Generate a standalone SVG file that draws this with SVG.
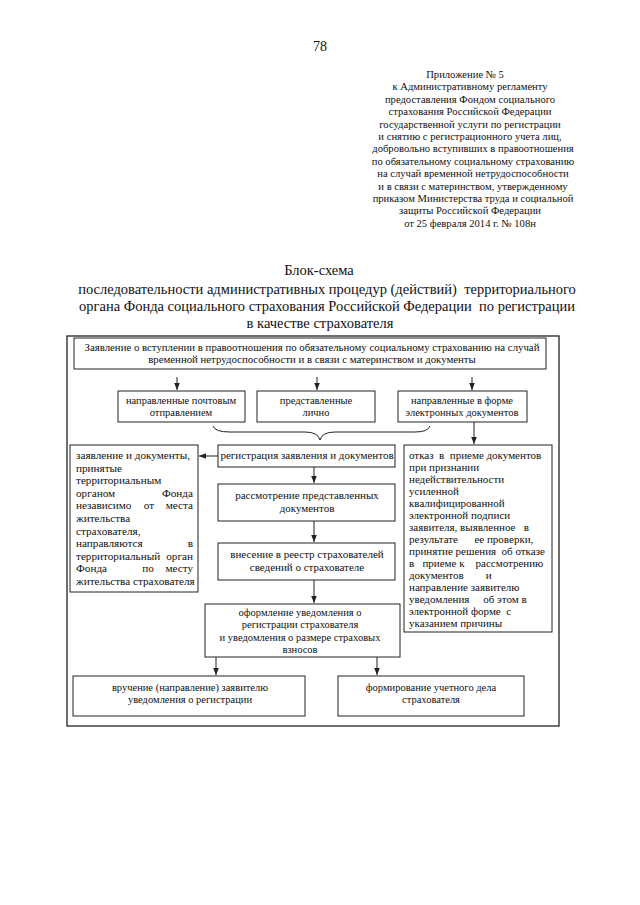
<svg xmlns="http://www.w3.org/2000/svg" width="640" height="905" viewBox="0 0 640 905">
<style>
text{font-family:"Liberation Serif","DejaVu Serif",serif;fill:#111}
.h{font-size:10.6px;text-anchor:middle}
.t{font-size:14.5px;text-anchor:middle}
.b{font-size:10.5px;text-anchor:middle}
.p{font-size:11px;text-anchor:middle}
.s{font-size:10.8px;text-anchor:middle}
.l{font-size:11px}
.e{font-size:11px;text-anchor:end}
.m{font-size:11px;text-anchor:middle}
.w{font-size:11.2px}
.we{font-size:11.2px;text-anchor:end}
.wm{font-size:11.2px;text-anchor:middle}
rect.n{fill:#fff;stroke:#222;stroke-width:1}
.c line,.c path{stroke:#222;stroke-width:1;fill:none}
</style>
<defs>
<marker id="ah" viewBox="0 0 10 10" refX="10" refY="5" markerWidth="7" markerHeight="7" markerUnits="userSpaceOnUse" orient="auto">
<path d="M0,1 L10,5 L0,9 Z" fill="#222"/>
</marker>
</defs>
<rect width="640" height="905" fill="#fff"/>
<text x="320" y="51" style="font-size:14px;text-anchor:middle">78</text>
<g id="appendix">
<text class="h" x="465" y="78">Приложение № 5</text>
<text class="h" x="470" y="90.4">к Административному регламенту</text>
<text class="h" x="470" y="102.8">предоставления Фондом социального</text>
<text class="h" x="470" y="115.2">страхования Российской Федерации</text>
<text class="h" x="470" y="127.6">государственной услуги по регистрации</text>
<text class="h" x="470" y="140">и снятию с регистрационного учета лиц,</text>
<text class="h" x="473" y="152.4">добровольно вступивших в правоотношения</text>
<text class="h" x="473" y="164.8">по обязательному социальному страхованию</text>
<text class="h" x="473" y="177.2">на случай временной нетрудоспособности</text>
<text class="h" x="473" y="189.6">и в связи с материнством, утвержденному</text>
<text class="h" x="473" y="202">приказом Министерства труда и социальной</text>
<text class="h" x="470" y="214.4">защиты Российской Федерации</text>
<text class="h" x="470" y="226.8">от 25 февраля 2014 г. № 108н</text>
</g>
<g id="title">
<text class="t" x="319" y="275">Блок-схема</text>
<text class="t" x="327" y="294" xml:space="preserve">последовательности административных процедур (действий)  территориального</text>
<text class="t" x="327" y="311" xml:space="preserve">органа Фонда социального страхования Российской Федерации  по регистрации</text>
<text class="t" x="320" y="328">в качестве страхователя</text>
</g>
<rect id="frame" x="67" y="336" width="492" height="390" fill="none" stroke="#222" stroke-width="1.3"/>
<g id="n-statement">
<rect class="n" x="74" y="338" width="472" height="31"/>
<text class="s" x="312" y="351">Заявление о вступлении в правоотношения по обязательному социальному страхованию на случай</text>
<text class="s" x="312" y="363">временной нетрудоспособности и в связи с материнством и документы</text>
</g>
<g id="n-post">
<rect class="n" x="118" y="391" width="127" height="31"/>
<text class="b" x="181" y="404">направленные почтовым</text>
<text class="b" x="181" y="416">отправлением</text>
</g>
<g id="n-personal">
<rect class="n" x="257" y="391" width="118" height="31"/>
<text class="b" x="316" y="404">представленные</text>
<text class="b" x="316" y="416">лично</text>
</g>
<g id="n-electronic">
<rect class="n" x="398" y="391" width="129" height="31"/>
<text class="b" x="462" y="404">направленные в форме</text>
<text class="b" x="462" y="416">электронных документов</text>
</g>
<g id="n-registration">
<rect class="n" x="218" y="445" width="177" height="22"/>
<text class="p" x="307" y="459">регистрация заявления и документов</text>
</g>
<g id="n-review">
<rect class="n" x="218" y="484" width="177" height="37"/>
<text class="p" x="307" y="499">рассмотрение представленных</text>
<text class="p" x="307" y="512">документов</text>
</g>
<g id="n-register">
<rect class="n" x="218" y="543" width="177" height="37"/>
<text class="p" x="307" y="558">внесение в реестр страхователей</text>
<text class="p" x="307" y="571">сведений о страхователе</text>
</g>
<g id="n-notice">
<rect class="n" x="205" y="604" width="195" height="53"/>
<text class="b" x="300" y="616">оформление уведомления о</text>
<text class="b" x="300" y="628">регистрации страхователя</text>
<text class="b" x="300" y="641">и уведомления о размере страховых</text>
<text class="b" x="300" y="653">взносов</text>
</g>
<g id="n-transfer">
<rect class="n" x="70" y="445" width="128" height="147"/>
<text class="w" x="76" y="459">заявление и документы,</text>
<text class="w" x="76" y="471.6">принятые</text>
<text class="w" x="76" y="484.2">территориальным</text>
<text class="w" x="76" y="496.8">органом</text><text class="we" x="193" y="496.8">Фонда</text>
<text class="w" x="76" y="509.4">независимо</text><text class="wm" x="149" y="509.4">от</text><text class="we" x="193" y="509.4">места</text>
<text class="w" x="76" y="522">жительства</text>
<text class="w" x="76" y="534.6">страхователя,</text>
<text class="w" x="76" y="547.2">направляются</text><text class="we" x="193" y="547.2">в</text>
<text class="w" x="76" y="559.8">территориальный</text><text class="we" x="193" y="559.8">орган</text>
<text class="w" x="76" y="572.4">Фонда</text><text class="wm" x="148" y="572.4">по</text><text class="we" x="193" y="572.4">месту</text>
<text class="w" x="76" y="585">жительства страхователя</text>
</g>
<g id="n-refusal">
<rect class="n" x="404" y="445" width="148" height="187"/>
<text class="l" x="409" y="459" xml:space="preserve">отказ  в  приеме документов</text>
<text class="l" x="409" y="471">при признании</text>
<text class="l" x="409" y="483">недействительности</text>
<text class="l" x="409" y="495">усиленной</text>
<text class="l" x="409" y="507">квалифицированной</text>
<text class="l" x="409" y="519">электронной подписи</text>
<text class="l" x="409" y="531" xml:space="preserve">заявителя, выявленное   в</text>
<text class="l" x="409" y="543" xml:space="preserve">результате      ее проверки,</text>
<text class="l" x="409" y="555" xml:space="preserve">принятие решения  об отказе</text>
<text class="l" x="409" y="567" xml:space="preserve">в   приеме к    рассмотрению</text>
<text class="l" x="409" y="579" xml:space="preserve">документов        и</text>
<text class="l" x="409" y="591">направление заявителю</text>
<text class="l" x="409" y="603" xml:space="preserve">уведомления     об этом в</text>
<text class="l" x="409" y="615" xml:space="preserve">электронной форме  с</text>
<text class="l" x="409" y="627">указанием причины</text>
</g>
<g id="n-deliver">
<rect class="n" x="73" y="676" width="232" height="40"/>
<text class="b" x="190" y="691">вручение (направление) заявителю</text>
<text class="b" x="190" y="703">уведомления о регистрации</text>
</g>
<g id="n-file">
<rect class="n" x="338" y="676" width="186" height="40"/>
<text class="b" x="431" y="691">формирование учетного дела</text>
<text class="b" x="431" y="703">страхователя</text>
</g>
<g class="c" id="connectors">
<line x1="177" y1="377" x2="177" y2="390" marker-end="url(#ah)"/>
<line x1="317" y1="377" x2="317" y2="390" marker-end="url(#ah)"/>
<line x1="472" y1="377" x2="472" y2="390" marker-end="url(#ah)"/>
<path d="M213,426 Q215,432 230,432 L305,432 Q318,432 320,440 Q322,432 335,432 L415,432 Q428,432 430,426"/>
<line x1="474" y1="422" x2="474" y2="444" marker-end="url(#ah)"/>
<line x1="218" y1="456" x2="199" y2="456" marker-end="url(#ah)"/>
<line x1="314" y1="467" x2="314" y2="483" marker-end="url(#ah)"/>
<line x1="314" y1="521" x2="314" y2="542" marker-end="url(#ah)"/>
<line x1="314" y1="580" x2="314" y2="603" marker-end="url(#ah)"/>
<line x1="216" y1="657" x2="216" y2="675" marker-end="url(#ah)"/>
<line x1="377" y1="657" x2="377" y2="675" marker-end="url(#ah)"/>
</g>
</svg>
